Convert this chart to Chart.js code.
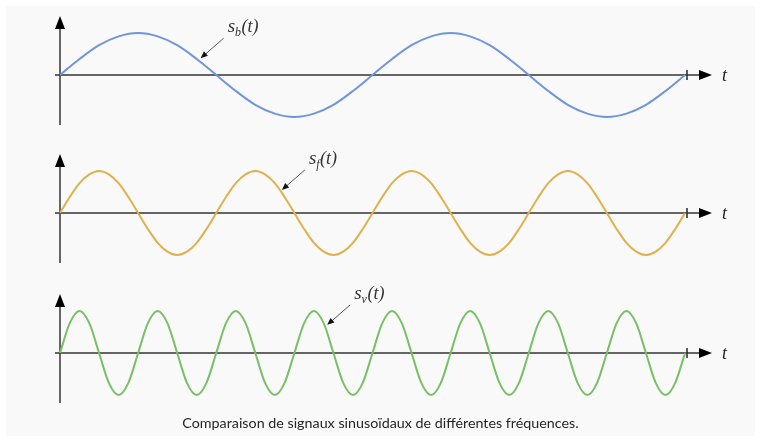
<!DOCTYPE html>
<html>
<head>
<meta charset="utf-8">
<script src="https://cdn.jsdelivr.net/npm/chart.js@4"></script>
<style>
  html, body { margin: 0; padding: 0; background: #fff; }
  #wrap { position: relative; width: 761px; height: 442px; overflow: hidden; }
  #panel { position: absolute; left: 6px; top: 6px; right: 6px; bottom: 6px; background: #f9f9f9; }
  #plot { position: absolute; left: 0; top: 0; }
  #caption {
    position: absolute; left: 0; right: 0; top: 414px;
    text-align: center; font-family: Lato, sans-serif; font-size: 14.3px; color: #262626;
  }
</style>
</head>
<body>
<div id="wrap">
  <div id="panel"></div>
  <canvas id="plot" width="761" height="442"></canvas>
  <div id="caption">Comparaison de signaux sinusoïdaux de différentes fréquences.</div>
</div>
<script>
// time samples (unit = one period of s_v)
const tCoarse = [0, 0.25, 0.5, 0.75, 1, 1.25, 1.5, 1.75, 2, 2.25, 2.5, 2.75, 3, 3.25, 3.5, 3.75, 4,
                 4.25, 4.5, 4.75, 5, 5.25, 5.5, 5.75, 6, 6.25, 6.5, 6.75, 7, 7.25, 7.5, 7.75, 8];
const tFine = [0, 0.125, 0.25, 0.375, 0.5, 0.625, 0.75, 0.875, 1, 1.125, 1.25, 1.375, 1.5, 1.625, 1.75, 1.875,
               2, 2.125, 2.25, 2.375, 2.5, 2.625, 2.75, 2.875, 3, 3.125, 3.25, 3.375, 3.5, 3.625, 3.75, 3.875,
               4, 4.125, 4.25, 4.375, 4.5, 4.625, 4.75, 4.875, 5, 5.125, 5.25, 5.375, 5.5, 5.625, 5.75, 5.875,
               6, 6.125, 6.25, 6.375, 6.5, 6.625, 6.75, 6.875, 7, 7.125, 7.25, 7.375, 7.5, 7.625, 7.75, 7.875, 8];

// signal values
const sB = [0, 0.38, 0.71, 0.92, 1, 0.92, 0.71, 0.38, 0, -0.38, -0.71, -0.92, -1, -0.92, -0.71, -0.38,
            0, 0.38, 0.71, 0.92, 1, 0.92, 0.71, 0.38, 0, -0.38, -0.71, -0.92, -1, -0.92, -0.71, -0.38, 0];
const sF = [0, 0.38, 0.71, 0.92, 1, 0.92, 0.71, 0.38, 0, -0.38, -0.71, -0.92, -1, -0.92, -0.71, -0.38,
            0, 0.38, 0.71, 0.92, 1, 0.92, 0.71, 0.38, 0, -0.38, -0.71, -0.92, -1, -0.92, -0.71, -0.38,
            0, 0.38, 0.71, 0.92, 1, 0.92, 0.71, 0.38, 0, -0.38, -0.71, -0.92, -1, -0.92, -0.71, -0.38,
            0, 0.38, 0.71, 0.92, 1, 0.92, 0.71, 0.38, 0, -0.38, -0.71, -0.92, -1, -0.92, -0.71, -0.38, 0];
const sV = [0, 0.71, 1, 0.71, 0, -0.71, -1, -0.71, 0, 0.71, 1, 0.71, 0, -0.71, -1, -0.71,
            0, 0.71, 1, 0.71, 0, -0.71, -1, -0.71, 0, 0.71, 1, 0.71, 0, -0.71, -1, -0.71,
            0, 0.71, 1, 0.71, 0, -0.71, -1, -0.71, 0, 0.71, 1, 0.71, 0, -0.71, -1, -0.71,
            0, 0.71, 1, 0.71, 0, -0.71, -1, -0.71, 0, 0.71, 1, 0.71, 0, -0.71, -1, -0.71, 0];

// curve labels: sub-index, and the point on the curve the arrow points to
const labelSubs = ['b', 'f', 'v'];
const labelT = [1.8, 2.84, 3.42];
const labelV = [0.4, 0.55, 0.67];

const colors = ['#6f95da', '#e0b04c', '#78c066'];
const W = 761, H = 442;
const x0 = 60, x8 = 685;          // pixels of t = 0 and t = 8
const zeros = [75, 213, 353];     // baseline of each strip
const amp = 42;                   // pixels per unit amplitude
const pxPerT = (x8 - x0) / 8;

function yScale(i) {
  return { display: false, min: -(H - zeros[i]) / amp, max: zeros[i] / amp };
}
function pts(ts, vs) { return ts.map((t, i) => ({ x: t, y: vs[i] })); }

const axesPlugin = {
  id: 'axes',
  beforeDatasetsDraw(chart) {
    const ctx = chart.ctx;
    const xs = chart.scales.x;
    ['y0', 'y1', 'y2'].forEach(id => {
      const ys = chart.scales[id];
      const yz = ys.getPixelForValue(0);
      const xa = xs.getPixelForValue(0);
      ctx.save();
      // vertical axis
      ctx.strokeStyle = '#666';
      ctx.lineWidth = 2;
      ctx.beginPath();
      ctx.moveTo(xa, yz + 50);
      ctx.lineTo(xa, yz - 48);
      ctx.stroke();
      ctx.fillStyle = '#000';
      ctx.beginPath();
      ctx.moveTo(xa, yz - 59);
      ctx.lineTo(xa - 5, yz - 46);
      ctx.lineTo(xa + 5, yz - 46);
      ctx.closePath();
      ctx.fill();
      // horizontal axis
      ctx.strokeStyle = '#333';
      ctx.lineWidth = 1.6;
      ctx.beginPath();
      ctx.moveTo(xa - 5, yz);
      ctx.lineTo(xs.getPixelForValue(8) + 15, yz);
      ctx.stroke();
      const xe = xs.getPixelForValue(8);
      ctx.beginPath();
      ctx.moveTo(xe + 2, yz - 5);
      ctx.lineTo(xe + 2, yz + 5);
      ctx.stroke();
      ctx.beginPath();
      ctx.moveTo(xe + 27, yz);
      ctx.lineTo(xe + 14, yz - 5);
      ctx.lineTo(xe + 14, yz + 5);
      ctx.closePath();
      ctx.fill();
      ctx.font = 'italic 18px "Liberation Serif", serif';
      ctx.fillStyle = '#222';
      ctx.textBaseline = 'middle';
      ctx.fillText('t', xe + 37, yz + 1);
      ctx.restore();
    });
  },
  afterDatasetsDraw(chart) {
    const ctx = chart.ctx;
    const xs = chart.scales.x;
    labelSubs.forEach((sub, i) => {
      const ys = chart.scales['y' + i];
      const tx = xs.getPixelForValue(labelT[i]);
      const ty = ys.getPixelForValue(labelV[i]);
      const sx = tx + 23, sy = ty - 20;
      ctx.save();
      ctx.strokeStyle = '#555';
      ctx.lineWidth = 1;
      ctx.beginPath();
      ctx.moveTo(sx, sy);
      ctx.lineTo(tx + 3, ty - 2.5);
      ctx.stroke();
      const a = Math.atan2(ty - sy, tx - sx);
      ctx.fillStyle = '#111';
      ctx.beginPath();
      ctx.moveTo(tx, ty);
      ctx.lineTo(tx - 7 * Math.cos(a) + 3 * Math.sin(a), ty - 7 * Math.sin(a) - 3 * Math.cos(a));
      ctx.lineTo(tx - 7 * Math.cos(a) - 3 * Math.sin(a), ty - 7 * Math.sin(a) + 3 * Math.cos(a));
      ctx.closePath();
      ctx.fill();
      // s_x(t)
      ctx.fillStyle = '#333';
      ctx.textBaseline = 'alphabetic';
      let lx = sx + 4, ly = sy - 6;
      ctx.font = 'italic 19px "Liberation Serif", serif';
      ctx.fillText('s', lx, ly);
      lx += ctx.measureText('s').width;
      ctx.font = 'italic 12px "Liberation Serif", serif';
      ctx.fillText(sub, lx, ly + 4);
      lx += ctx.measureText(sub).width + 0.5;
      ctx.font = 'italic 18px "Liberation Serif", serif';
      ctx.fillText('(t)', lx, ly);
      ctx.restore();
    });
  }
};

const series = [[tCoarse, sB], [tFine, sF], [tFine, sV]];

new Chart(document.getElementById('plot'), {
  type: 'line',
  data: {
    datasets: series.map((s, i) => ({
      data: pts(s[0], s[1]),
      yAxisID: 'y' + i,
      borderColor: colors[i],
      borderWidth: 2,
      pointRadius: 0,
      cubicInterpolationMode: 'monotone',
      fill: false,
      clip: false
    }))
  },
  options: {
    responsive: false,
    animation: false,
    layout: { padding: 0 },
    plugins: { legend: { display: false }, tooltip: { enabled: false } },
    scales: {
      x: { type: 'linear', display: false, min: -x0 / pxPerT, max: (W - x0) / pxPerT },
      y0: yScale(0),
      y1: yScale(1),
      y2: yScale(2)
    }
  },
  plugins: [axesPlugin]
});
</script>
</body>
</html>
